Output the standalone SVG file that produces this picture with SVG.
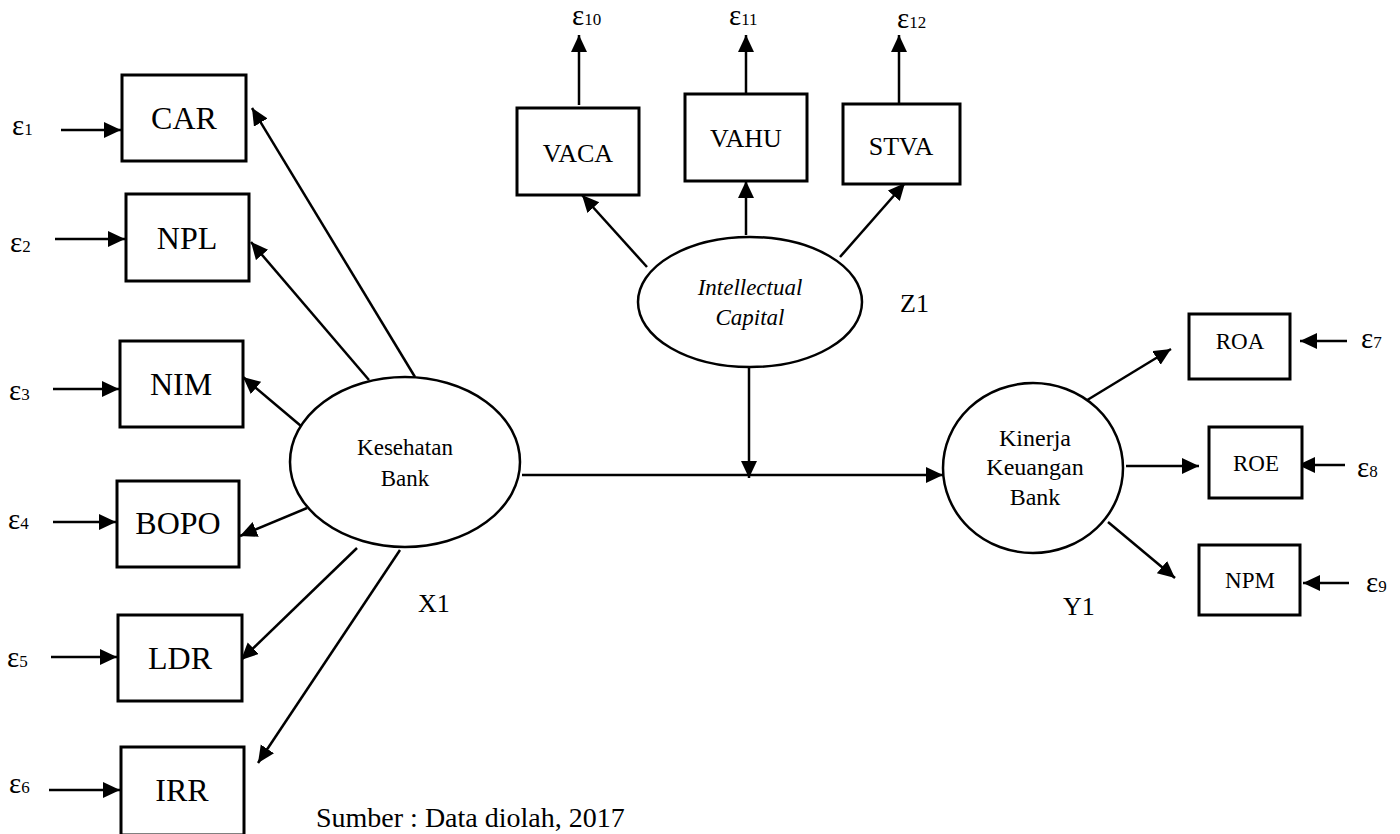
<svg xmlns="http://www.w3.org/2000/svg" width="1400" height="834" viewBox="0 0 1400 834">
<style>
text{font-family:"Liberation Serif","Times New Roman",serif;fill:#000}
.box{fill:#fff;stroke:#000;stroke-width:3}
.ell{fill:#fff;stroke:#000;stroke-width:2.5}
.big{font-size:32px;text-anchor:middle}
.mid{font-size:26px;text-anchor:middle}
.sm{font-size:23px;text-anchor:middle}
.lat{font-size:24px;text-anchor:middle}
.lab{font-size:26px}
.eps{font-size:29px}
.eps tspan{font-size:17px}
.con line{stroke:#000;stroke-width:2.5;marker-end:url(#ah)}
</style>
<defs>
<marker id="ah" markerUnits="userSpaceOnUse" markerWidth="20" markerHeight="18" refX="17" refY="8" orient="auto">
<path d="M0,0 L17,8 L0,16 z" fill="#000"/>
</marker>
</defs>
<rect width="1400" height="834" fill="#fff"/>

<g id="connectors" class="con">
<line x1="61" y1="130" x2="121" y2="130"/>
<line x1="55" y1="239" x2="125" y2="239"/>
<line x1="53" y1="389" x2="119" y2="389"/>
<line x1="53" y1="522" x2="116" y2="522"/>
<line x1="51" y1="657" x2="117" y2="657"/>
<line x1="49" y1="790" x2="120" y2="790"/>
<line x1="415" y1="377" x2="252" y2="108"/>
<line x1="369" y1="380" x2="251" y2="242"/>
<line x1="301" y1="426" x2="243" y2="377"/>
<line x1="307" y1="508" x2="240" y2="536"/>
<line x1="357" y1="548" x2="241" y2="660"/>
<line x1="400" y1="550" x2="258" y2="763"/>
<line x1="522" y1="475" x2="943" y2="475"/>
<line x1="749" y1="367" x2="749" y2="478"/>
<line x1="579" y1="105" x2="579" y2="35"/>
<line x1="746" y1="94" x2="746" y2="35"/>
<line x1="899" y1="104" x2="899" y2="35"/>
<line x1="647" y1="267" x2="582" y2="195"/>
<line x1="746" y1="235" x2="746" y2="181"/>
<line x1="840" y1="257" x2="905" y2="183"/>
<line x1="1084" y1="402" x2="1171" y2="349"/>
<line x1="1126" y1="466" x2="1199" y2="466"/>
<line x1="1108" y1="522" x2="1175" y2="578"/>
<line x1="1347" y1="341" x2="1300" y2="341"/>
<line x1="1345" y1="465" x2="1298" y2="465"/>
<line x1="1349" y1="583" x2="1303" y2="583"/>
</g>

<g id="CAR"><rect class="box" x="122" y="75" width="124" height="86"/><text class="big" x="184" y="129">CAR</text></g>
<g id="NPL"><rect class="box" x="126" y="194" width="123" height="87"/><text class="big" x="187" y="249">NPL</text></g>
<g id="NIM"><rect class="box" x="120" y="341" width="123" height="86"/><text class="big" x="181" y="395">NIM</text></g>
<g id="BOPO"><rect class="box" x="117" y="481" width="122" height="86"/><text class="big" x="178" y="534">BOPO</text></g>
<g id="LDR"><rect class="box" x="118" y="615" width="124" height="86"/><text class="big" x="180" y="669">LDR</text></g>
<g id="IRR"><rect class="box" x="121" y="747" width="123" height="88"/><text class="big" x="182" y="801">IRR</text></g>

<g id="eps-left">
<text class="eps" x="12" y="135">ε<tspan>1</tspan></text>
<text class="eps" x="10" y="252">ε<tspan>2</tspan></text>
<text class="eps" x="9" y="400">ε<tspan>3</tspan></text>
<text class="eps" x="8" y="529">ε<tspan>4</tspan></text>
<text class="eps" x="7" y="667">ε<tspan>5</tspan></text>
<text class="eps" x="9" y="793">ε<tspan>6</tspan></text>
</g>

<g id="X1node"><ellipse class="ell" cx="405" cy="462" rx="115" ry="85"/><text class="sm" x="405" y="455">Kesehatan</text><text class="sm" x="405" y="486">Bank</text></g>
<text class="lab" x="418" y="612">X1</text>

<g id="Z1node"><ellipse class="ell" cx="750" cy="302" rx="112" ry="65"/><text class="sm" x="750" y="295" font-style="italic">Intellectual</text><text class="sm" x="750" y="325" font-style="italic">Capital</text></g>
<text class="lab" x="900" y="312">Z1</text>

<g id="VACA"><rect class="box" x="517" y="108" width="122" height="87"/><text class="mid" x="578" y="162">VACA</text></g>
<g id="VAHU"><rect class="box" x="685" y="94" width="122" height="87"/><text class="mid" x="746" y="147">VAHU</text></g>
<g id="STVA"><rect class="box" x="843" y="104" width="117" height="80"/><text class="mid" x="901" y="155">STVA</text></g>

<g id="eps-top">
<text class="eps" x="572" y="25">ε<tspan>10</tspan></text>
<text class="eps" x="729" y="25">ε<tspan>11</tspan></text>
<text class="eps" x="897" y="28">ε<tspan>12</tspan></text>
</g>

<g id="Y1node"><ellipse class="ell" cx="1033" cy="468" rx="90" ry="85"/><text class="lat" x="1035" y="446">Kinerja</text><text class="lat" x="1035" y="475">Keuangan</text><text class="lat" x="1035" y="505">Bank</text></g>
<text class="lab" x="1063" y="615">Y1</text>

<g id="ROA"><rect class="box" x="1189" y="314" width="101" height="65"/><text class="sm" x="1240" y="349">ROA</text></g>
<g id="ROE"><rect class="box" x="1209" y="427" width="93" height="71"/><text class="sm" x="1256" y="471">ROE</text></g>
<g id="NPM"><rect class="box" x="1199" y="545" width="101" height="70"/><text class="sm" x="1250" y="588">NPM</text></g>

<g id="eps-right">
<text class="eps" x="1361" y="348">ε<tspan>7</tspan></text>
<text class="eps" x="1357" y="477">ε<tspan>8</tspan></text>
<text class="eps" x="1366" y="592">ε<tspan>9</tspan></text>
</g>

<text x="316" y="827" font-size="28">Sumber : Data diolah, 2017</text>
</svg>
